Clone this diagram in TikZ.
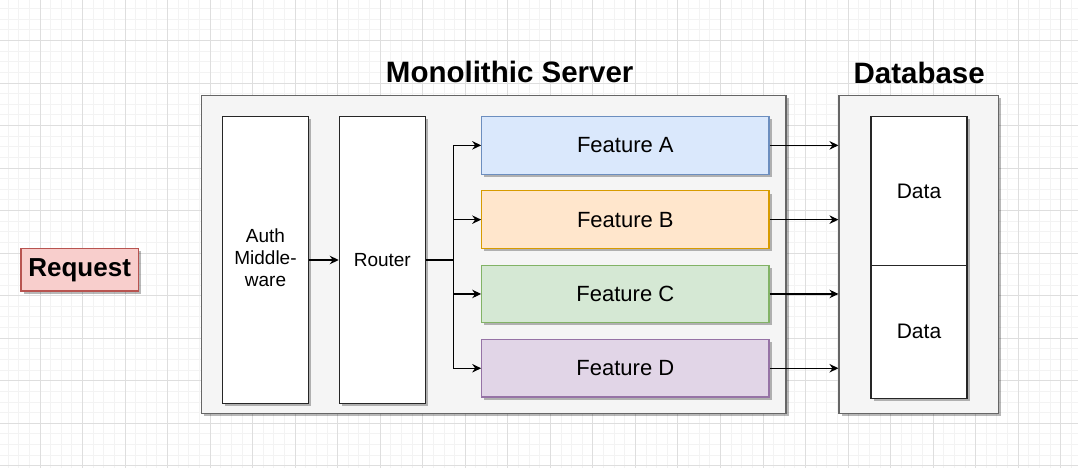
\documentclass[tikz,border=0pt]{standalone}
\usepackage{fontspec}
\setmainfont{Liberation Sans}
\usetikzlibrary{arrows.meta,shadows}

\definecolor{gridminor}{HTML}{F3F3F3}
\definecolor{gridmajor}{HTML}{DEDEDE}
\definecolor{panelfill}{HTML}{F5F5F5}
\definecolor{panelline}{HTML}{666666}
\definecolor{reqfill}{HTML}{F8CECC}\definecolor{reqline}{HTML}{B85450}
\definecolor{afill}{HTML}{DAE8FC}\definecolor{aline}{HTML}{6C8EBF}
\definecolor{bfill}{HTML}{FFE6CC}\definecolor{bline}{HTML}{D79B00}
\definecolor{cfill}{HTML}{D5E8D4}\definecolor{cline}{HTML}{82B366}
\definecolor{dfill}{HTML}{E1D5E7}\definecolor{dline}{HTML}{9673A6}

\tikzset{
  shade box/.style={drop shadow={shadow xshift=2.6pt,shadow yshift=-2.6pt,fill=black,opacity=0.28}},
  box/.style={rectangle,inner sep=0pt,line width=1.1pt,shade box},
  panel/.style={box,fill=panelfill,draw=panelline},
  whitebox/.style={box,fill=white,draw=black!85,font=\fontsize{19}{22.3}\selectfont,align=center},
  feature/.style={box,minimum width=287.3pt,minimum height=57.5pt,font=\fontsize{22}{26}\selectfont},
  title/.style={anchor=base,font=\bfseries\fontsize{29.5}{34}\selectfont},
  link/.style={line width=1.1pt,-{Stealth[length=9pt,width=8.5pt,inset=3pt]}},
  wire/.style={line width=1.1pt},
}

\begin{document}
\begin{tikzpicture}[x=1pt,y=-1pt]
\useasboundingbox (0,0) rectangle (1078,468);
\fill[white] (0,0) rectangle (1078,468);

% background grid: fine lines every 10.633, strong lines every fourth one
\foreach \i in {-3,...,97} \draw[gridminor,line width=1pt] ({40+\i*10.633},0) -- ++(0,468);
\foreach \i in {-3,...,40} \draw[gridminor,line width=1pt] (0,{40.5+\i*10.633}) -- ++(1078,0);
\foreach \i in {0,...,24} \draw[gridmajor,line width=1pt] ({40+\i*42.53},0) -- ++(0,468);
\foreach \i in {0,...,10} \draw[gridmajor,line width=1pt] (0,{40.5+\i*42.53}) -- ++(1078,0);

% request
\node[box,fill=reqfill,draw=reqline,minimum width=117.3pt,minimum height=42.7pt,
      text height=19pt,text depth=5pt,
      font=\bfseries\fontsize{26}{30}\selectfont] (req) at (79.65,269.65) {Request};

% server panel
\node[panel,minimum width=584.3pt,minimum height=318pt] (mono) at (493.85,254.5) {};
\node[title] (monotitle) at (509.7,82.7) {Monolithic Server};

\node[whitebox,minimum width=85.6pt,minimum height=286.6pt] (auth) at (265.5,260)
  {\raisebox{2pt}{\begin{tabular}{@{}c@{}}Auth\\Middle-\\ware\end{tabular}}};
\node[whitebox,minimum width=86pt,minimum height=286.6pt] (router) at (382.3,260) {Router};

\node[feature,fill=afill,draw=aline] (fa) at (625.35,145.35) {Feature A};
\node[feature,fill=bfill,draw=bline] (fb) at (625.35,219.65) {Feature B};
\node[feature,fill=cfill,draw=cline] (fc) at (625.35,293.95) {Feature C};
\node[feature,fill=dfill,draw=dline] (fd) at (625.35,368.25) {Feature D};

% database panel
\node[panel,minimum width=159.7pt,minimum height=318pt] (db) at (918.85,254.5) {};
\node[title] (dbtitle) at (919.2,83.3) {Database};
\node[whitebox,font=\fontsize{21}{25}\selectfont,minimum width=96pt,minimum height=148.6pt] (data1) at (919,191) {Data};
\node[whitebox,font=\fontsize{21}{25}\selectfont,minimum width=96pt,minimum height=133pt] (data2) at (919,331.8) {Data};

% connectors
\draw[link] (auth.east) -- (router.west);
\coordinate (split) at (453.3,260);
\draw[wire] (router.east) -- (split);
\draw[link] (split) |- (fa.west);
\draw[link] (split) |- (fb.west);
\draw[link] (split) |- (fc.west);
\draw[link] (split) |- (fd.west);

\draw[link] (fa.east) -- (fa.east -| db.west);
\draw[link] (fb.east) -- (fb.east -| db.west);
\draw[link] (fc.east) -- (fc.east -| db.west);
\draw[link] (fd.east) -- (fd.east -| db.west);
\end{tikzpicture}
\end{document}
